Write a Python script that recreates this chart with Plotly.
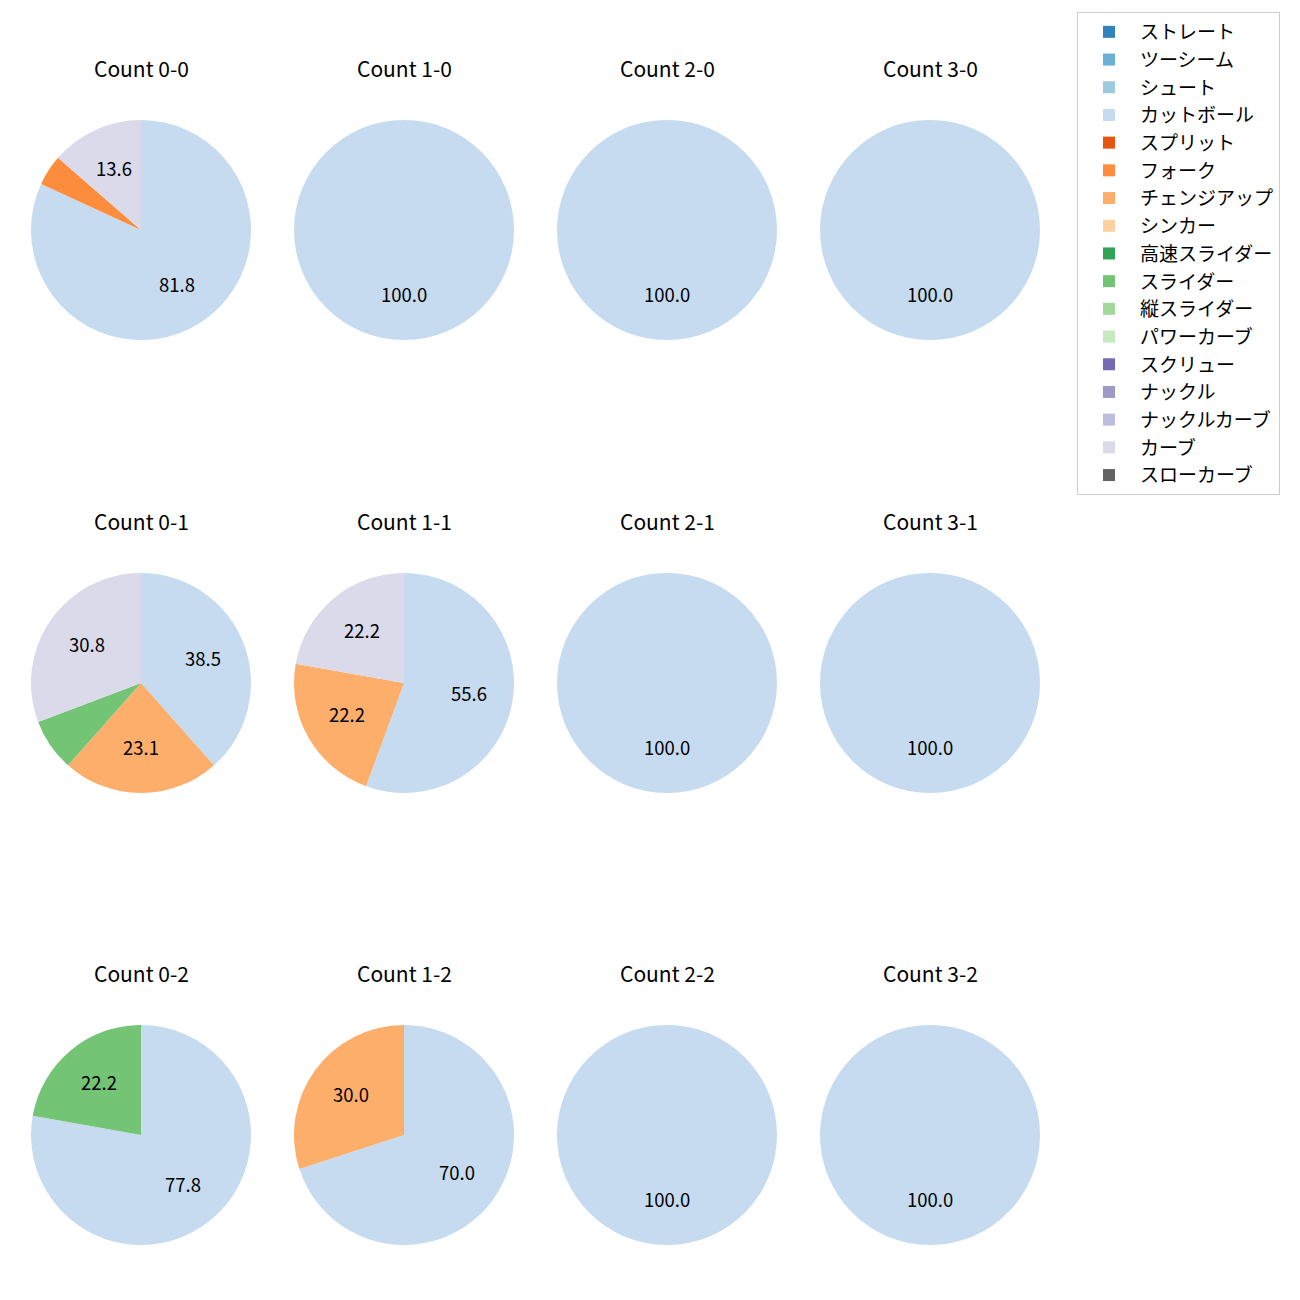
import math
import plotly.graph_objects as go

# ---- data ----
pitch_types = ["ストレート", "ツーシーム", "シュート", "カットボール", "スプリット", "フォーク",
               "チェンジアップ", "シンカー", "高速スライダー", "スライダー", "縦スライダー",
               "パワーカーブ", "スクリュー", "ナックル", "ナックルカーブ", "カーブ", "スローカーブ"]
pitch_colors = ["#3182bd", "#6baed6", "#9ecae1", "#c6dbef", "#e6550d", "#fd8d3c",
                "#fdae6b", "#fdd0a2", "#31a354", "#74c476", "#a1d99b", "#c7e9c0",
                "#756bb1", "#9e9ac8", "#bcbddc", "#dadaeb", "#636363"]

count_titles = ["Count 0-0", "Count 1-0", "Count 2-0", "Count 3-0",
                "Count 0-1", "Count 1-1", "Count 2-1", "Count 3-1",
                "Count 0-2", "Count 1-2", "Count 2-2", "Count 3-2"]
slice_types = [
    ["カットボール", "フォーク", "カーブ"], ["カットボール"], ["カットボール"], ["カットボール"],
    ["カットボール", "チェンジアップ", "スライダー", "カーブ"], ["カットボール", "チェンジアップ", "カーブ"], ["カットボール"], ["カットボール"],
    ["カットボール", "スライダー"], ["カットボール", "チェンジアップ"], ["カットボール"], ["カットボール"],
]
slice_pcts = [
    [81.8, 4.5, 13.6], [100.0], [100.0], [100.0],
    [38.5, 23.1, 7.7, 30.8], [55.6, 22.2, 22.2], [100.0], [100.0],
    [77.8, 22.2], [70.0, 30.0], [100.0], [100.0],
]

# ---- layout constants (pixels, page body margin of 8px accounted) ----
W = H = 1300
OFF = 8
col_cx = [141 - OFF, 404 - OFF, 667 - OFF, 930 - OFF]
row_cy = [230 - OFF, 683 - OFF, 1135 - OFF]
R = 110
FONT = "Noto Sans CJK JP"
color_of = dict(zip(pitch_types, pitch_colors))

fig = go.Figure()
annotations = []

for i, title in enumerate(count_titles):
    r, c = divmod(i, 4)
    cx, cy = col_cx[c], row_cy[r]
    fig.add_trace(go.Pie(
        labels=slice_types[i], values=slice_pcts[i],
        marker=dict(colors=[color_of[t] for t in slice_types[i]], line=dict(width=0)),
        domain=dict(x=[(cx - R) / W, (cx + R) / W], y=[1 - (cy + R) / H, 1 - (cy - R) / H]),
        sort=False, direction="clockwise", rotation=0,
        textinfo="none", hoverinfo="label+percent", showlegend=False,
    ))
    annotations.append(dict(x=cx / W, y=1 - (cy - 162) / H, xref="paper", yref="paper",
                            text=title, showarrow=False, font=dict(size=21, color="black", family=FONT),
                            xanchor="center", yanchor="middle"))
    total = sum(slice_pcts[i])
    start = 90.0
    for v in slice_pcts[i]:
        span = 360.0 * v / total
        mid = math.radians(start - span / 2)
        start -= span
        if v >= 10:
            px = cx + 0.6 * R * math.cos(mid)
            py = cy - 0.6 * R * math.sin(mid)
            annotations.append(dict(x=px / W, y=1 - (py - 2) / H, xref="paper", yref="paper",
                                    text=f"{v:.1f}", showarrow=False,
                                    font=dict(size=18.5, color="black", family=FONT),
                                    xanchor="center", yanchor="middle"))

# legend entries (one single-slice pie per pitch type, sub-pixel domain)
for name, col in zip(pitch_types, pitch_colors):
    fig.add_trace(go.Pie(
        labels=[name], values=[1], marker=dict(colors=[col], line=dict(width=0)),
        domain=dict(x=[0.9, 0.90005], y=[0.05, 0.05005]), textinfo="none", hoverinfo="skip",
        showlegend=True, legendgroup=name, sort=False,
    ))

fig.update_layout(
    width=W, height=H, margin=dict(l=0, r=0, t=0, b=0),
    paper_bgcolor="white", plot_bgcolor="white",
    font=dict(family=FONT, size=19, color="black"),
    annotations=annotations,
    legend=dict(x=(1077 - OFF) / W, y=1 - (12 - OFF) / H, xanchor="left", yanchor="top",
                bgcolor="rgba(255,255,255,0.8)", bordercolor="#cccccc", borderwidth=1,
                font=dict(size=19, family=FONT, color="black"),
                traceorder="grouped", tracegroupgap=0, itemwidth=52),
)

fig.write_html("out.html")
